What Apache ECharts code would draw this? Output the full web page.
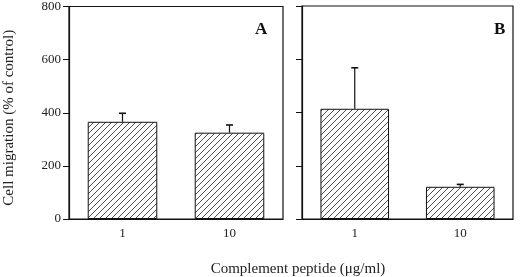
<!DOCTYPE html>
<html><head><meta charset="utf-8">
<script src="https://cdn.jsdelivr.net/npm/echarts@6/dist/echarts.min.js"></script>
<style>html,body{margin:0;padding:0;background:#fff}#c{width:520px;height:277px}</style>
</head><body><div id="c"></div>
<script>
const categories = ['1', '10'];
const valuesA = [366, 325];
const errorTopA = [398, 354];
const valuesB = [414, 121];
const errorTopB = [568, 130];
const yTicks = [0, 200, 400, 600, 800];
const panelLabels = ['A', 'B'];

const tile = document.createElement('canvas');
tile.width = 6; tile.height = 6;
const g = tile.getContext('2d');
g.fillStyle = '#fff'; g.fillRect(0,0,6,6);
g.strokeStyle = '#222'; g.lineWidth = 0.8;
g.beginPath();
g.moveTo(-1,7); g.lineTo(7,-1);
g.moveTo(-1,1); g.lineTo(1,-1);
g.moveTo(5,7); g.lineTo(7,5);
g.stroke();

const font = 'Liberation Serif';
const chart = echarts.init(document.getElementById('c'));

function errRender(params, api) {
  const x = api.value(0);
  const top = api.coord([x, api.value(2)]);
  const base = api.coord([x, api.value(1)]);
  return {type:'group', children:[
    {type:'line', shape:{x1:base[0], y1:base[1], x2:top[0], y2:top[1]}, style:{stroke:'#111', lineWidth:1.2}},
    {type:'line', shape:{x1:top[0]-3.5, y1:top[1], x2:top[0]+3.5, y2:top[1]}, style:{stroke:'#111', lineWidth:1.6}}
  ]};
}

function xAxis(idx) {
  return {type:'category', data:categories, gridIndex:idx,
    axisLine:{lineStyle:{color:'#111', width:1.2}},
    axisTick:{alignWithLabel:true, length:4, lineStyle:{color:'#111'}},
    axisLabel:{color:'#222', fontFamily:font, fontSize:13, margin:8}};
}
function yAxis(idx, labels) {
  return {type:'value', gridIndex:idx, min:0, max:800, interval:200,
    axisLine:{show:true, lineStyle:{color:'#111', width:1.2}},
    axisTick:{show:true, length:6, lineStyle:{color:'#111'}},
    splitLine:{show:false},
    axisLabel:{show:labels, color:'#222', fontFamily:font, fontSize:13, margin:8,
      formatter: v => yTicks.includes(v) ? String(v) : ''},
    name: labels ? 'Cell migration (% of control)' : '',
    nameLocation:'middle', nameGap:52, nameRotate:90,
    nameTextStyle:{color:'#222', fontFamily:font, fontSize:15, padding:[0,10,0,0]}};
}

chart.setOption({
  animation:false,
  grid:[
    {left:69, right:237, top:6, bottom:58, show:true, borderColor:'#111', borderWidth:1.2},
    {left:302, right:7, top:6, bottom:58, show:true, borderColor:'#111', borderWidth:1.2}
  ],
  xAxis:[xAxis(0), xAxis(1)],
  yAxis:[yAxis(0,true), yAxis(1,false)],
  title:[
    {text:panelLabels[0], left:250, top:16, textStyle:{fontFamily:font, fontWeight:'bold', fontSize:17, color:'#111'}},
    {text:panelLabels[1], left:489, top:16, textStyle:{fontFamily:font, fontWeight:'bold', fontSize:17, color:'#111'}},
    {text:'Complement peptide (μg/ml)', left:293, top:257, textAlign:'center', textStyle:{fontFamily:font, fontWeight:'normal', fontSize:15, color:'#222'}}
  ],
  series:[
    {type:'bar', xAxisIndex:0, yAxisIndex:0, data:valuesA, barWidth:'65%',
      itemStyle:{color:{image:tile, repeat:'repeat'}, borderColor:'#111', borderWidth:1}},
    {type:'bar', xAxisIndex:1, yAxisIndex:1, data:valuesB, barWidth:'65%',
      itemStyle:{color:{image:tile, repeat:'repeat'}, borderColor:'#111', borderWidth:1}},
    {type:'custom', xAxisIndex:0, yAxisIndex:0, renderItem:errRender, z:1,
      data:categories.map((c,i)=>[i, valuesA[i], errorTopA[i]])},
    {type:'custom', xAxisIndex:1, yAxisIndex:1, renderItem:errRender, z:1,
      data:categories.map((c,i)=>[i, valuesB[i], errorTopB[i]])}
  ]
});
</script></body></html>
